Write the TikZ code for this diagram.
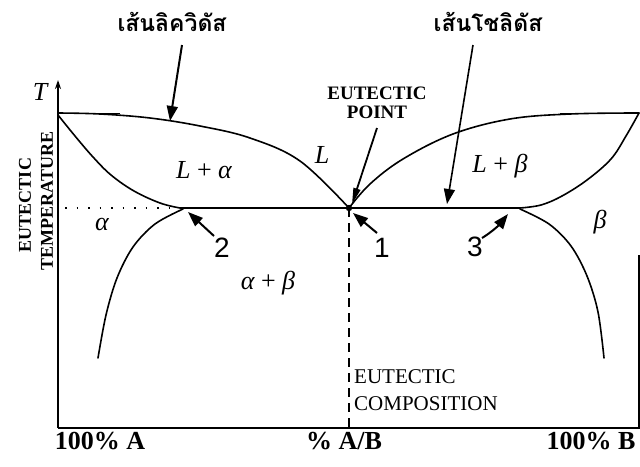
\documentclass[tikz,border=0pt]{standalone}
\usepackage{fontspec}
\setmainfont{Liberation Serif}
\newfontfamily\thaifont[Script=Thai]{Loma}
\newfontfamily\numfont{Liberation Sans}
\usetikzlibrary{arrows.meta}
\begin{document}
\begin{tikzpicture}[x=1pt,y=-1pt,
  curve/.style={line width=1.6pt, line join=round, line cap=round},
  axisline/.style={line width=2.2pt},
  ptr/.style={line width=2pt, -{Triangle[length=15pt,width=11pt]}},
  thailbl/.style={font=\thaifont\bfseries\fontsize{23}{25}\selectfont, inner sep=0pt},
  caplbl/.style={font=\bfseries\fontsize{19}{21}\selectfont, inner sep=0pt},
  complbl/.style={font=\fontsize{21}{23}\selectfont, inner sep=0pt, anchor=west},
  mathlbl/.style={font=\fontsize{26}{28}\selectfont, inner sep=0pt},
  numlbl/.style={font=\numfont\fontsize{28}{30}\selectfont, inner sep=0pt},
  botlbl/.style={font=\bfseries\fontsize{26}{28}\selectfont, inner sep=0pt}]
\useasboundingbox (0,0) rectangle (640,466);

% axes
\coordinate (o) at (58,428);
\coordinate (ytop) at (58,80);
\coordinate (br) at (639,428);
\coordinate (rtop) at (639,255);
\draw[axisline, -{Stealth[length=9pt,width=6pt]}] (o) -- (ytop);
\draw[axisline] (o) -- (br) -- (rtop);
\node[mathlbl] (T) at (40,92) {\itshape T};

% key points
\coordinate (A) at (58,113);
\coordinate (B) at (639,113);
\coordinate (E) at (349,208);
\coordinate (S2) at (180,208);
\coordinate (S3) at (520,208);

% top thin lines
\draw[line width=1pt] (A) -- (120,113);
\draw[line width=1pt] (560,113) -- (B);

% liquidus
\draw[curve] plot[smooth, tension=0.6] coordinates {(58,113) (100,114) (150,118) (200,126) (250,138) (300,161) (349,208)};
\draw[curve] plot[smooth, tension=0.6] coordinates {(349,208) (370,184) (403,159) (453,134) (510,119) (570,114) (639,113)};

% solidus
\draw[curve] plot[smooth, tension=0.6] coordinates {(58,115) (75,136) (93,157) (111,175) (134,191) (160,203) (180,208)};
\draw[curve] plot[smooth, tension=0.6] coordinates {(639,113) (626,136) (611,159) (587,180) (562,196) (541,205) (520,208)};

% eutectic line
\draw[line width=1.8pt, dash pattern=on 1.5pt off 10pt] (65,208) -- (S2);
\draw[line width=1.5pt] (S2) -- (S3);

% solvus
\draw[curve] plot[smooth, tension=0.55] coordinates {(183,209) (155,224) (133,247) (117,278) (106,315) (98,358)};
\draw[curve] plot[smooth, tension=0.55] coordinates {(520,209) (549,224) (571,246) (587,276) (598,312) (604,358)};

% eutectic composition
\draw[line width=2.4pt, dash pattern=on 9pt off 6pt] (E) -- (349,428);
\fill (E) circle (3.2pt);

% texts
\node[thailbl] (liq) at (172,22) {เส้นลิควิดัส};
\node[thailbl] (sol) at (488,22) {เส้นโชลิดัส};
\node[caplbl, align=center] (ep) at (377,103) {EUTECTIC\\[-2pt]POINT};
\node[caplbl, font=\bfseries\fontsize{18}{20}\selectfont, rotate=90] (et1) at (25,205) {EUTECTIC};
\node[caplbl, font=\bfseries\fontsize{18}{20}\selectfont, rotate=90] (et2) at (47,201) {TEMPERATURE};
\node[complbl] (ec1) at (354,377) {EUTECTIC};
\node[complbl] (ec2) at (354,404) {COMPOSITION};

\node[mathlbl] (L) at (322,155) {\itshape L};
\node[mathlbl] (La) at (204,170) {\itshape L\/ \upshape + \itshape α};
\node[mathlbl] (Lb) at (500,166) {\itshape L\/ \upshape + \itshape β};
\node[mathlbl] (al) at (102,224) {\itshape α};
\node[mathlbl] (be) at (600,222) {\itshape β};
\node[mathlbl] (ab) at (268,283) {\itshape α \upshape + \itshape β};

\node[numlbl] (n1) at (382,248) {1};
\node[numlbl] (n2) at (222,248) {2};
\node[numlbl] (n3) at (475,247) {3};

\node[botlbl] (pa) at (100,441) {100\% A};
\node[botlbl] (pab) at (344,441) {\% A/B};
\node[botlbl] (pb) at (591,441) {100\% B};

% pointers
\coordinate (liqs) at (182,45);
\coordinate (liqt) at (170,121);
\coordinate (sols) at (473,45);
\coordinate (solt) at (447,204);
\coordinate (eps) at (377,128);
\coordinate (ept) at (352,204);
\coordinate (t1s) at (377,233);
\coordinate (t1) at (353,213);
\coordinate (t2s) at (214,236);
\coordinate (t2) at (188,212);
\coordinate (t3s) at (482,238);
\coordinate (t3) at (508,214);

\draw[ptr] (liqs) -- (liqt);
\draw[ptr, line width=1.6pt] (sols) -- (solt);
\draw[line width=1.8pt, -{Triangle[length=16pt,width=7pt]}] (eps) -- (ept);
\draw[ptr] (t1s) -- (t1);
\draw[ptr] (t2s) -- (t2);
\draw[ptr] (t3s) .. controls (492,232) and (500,224) .. (t3);
\end{tikzpicture}
\end{document}
